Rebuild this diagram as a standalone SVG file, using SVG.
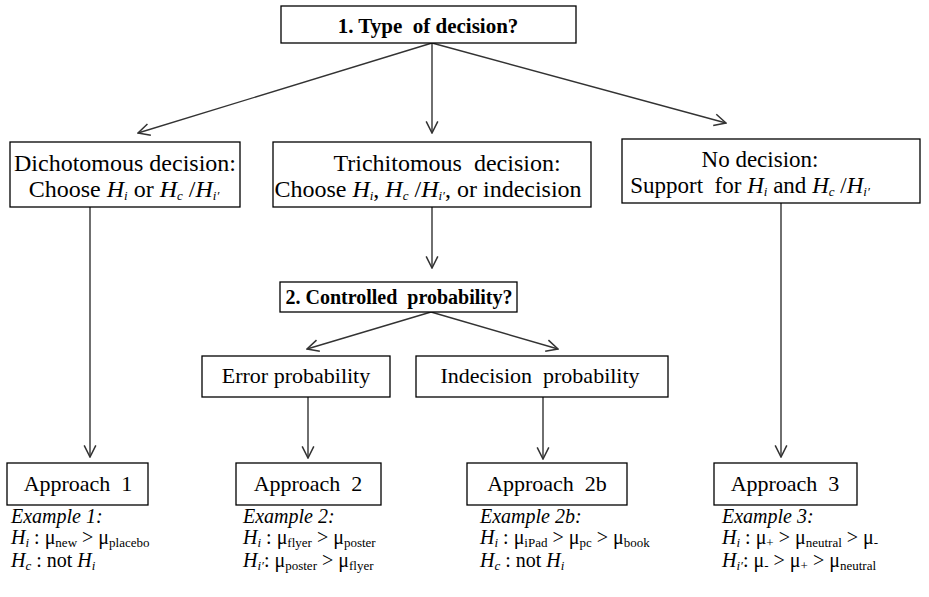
<svg xmlns="http://www.w3.org/2000/svg" width="929" height="597" viewBox="0 0 929 597">
<defs>
<marker id="arr" markerUnits="userSpaceOnUse" markerWidth="14" markerHeight="14" refX="11" refY="6" orient="auto" viewBox="0 0 12 12">
<path d="M1,1 L11,6 L1,11" fill="none" stroke="#333" stroke-width="1.3"/>
</marker>
</defs>
<style>
rect.box{fill:#fff;stroke:#000;stroke-width:1.3}
.c line{stroke:#333;stroke-width:1.4;marker-end:url(#arr)}
text{fill:#000}
.b{font-weight:bold}
.t{font-size:24px}
.ap{font-size:22px}
.ex{font-size:20px}
.it{font-style:italic}
.s{font-size:13px}
</style>
<rect width="929" height="597" fill="#fff"/>
<g class="c" id="connectors">
<line x1="432" y1="43" x2="138" y2="133"/>
<line x1="432" y1="43" x2="432" y2="133"/>
<line x1="432" y1="43" x2="726" y2="123"/>
<line x1="90" y1="207" x2="90" y2="457"/>
<line x1="432" y1="207" x2="432" y2="268"/>
<line x1="431" y1="312" x2="307" y2="349"/>
<line x1="431" y1="312" x2="558" y2="349"/>
<line x1="308" y1="397" x2="308" y2="458"/>
<line x1="543" y1="397" x2="543" y2="459"/>
<line x1="781" y1="203" x2="781" y2="457"/>
</g>
<g font-family="'Liberation Serif', 'Times New Roman', Times, serif">
<g id="n_type">
<rect class="box" x="281" y="6" width="295" height="37"/>
<text class="b" x="428" y="33" font-size="21" text-anchor="middle" xml:space="preserve">1. Type  of decision?</text>
</g>
<g id="n_dich">
<rect class="box" x="10" y="142" width="230" height="65"/>
<text class="t" x="125" y="171" text-anchor="middle">Dichotomous decision:</text>
<text class="t" x="124" y="197" text-anchor="middle">Choose <tspan class="it">H</tspan><tspan class="s it" dy="3">i</tspan><tspan dy="-3"> or </tspan><tspan class="it">H</tspan><tspan class="s it" dy="3">c</tspan><tspan dy="-3"> /</tspan><tspan class="it">H</tspan><tspan class="s it" dy="3">i′</tspan></text>
</g>
<g id="n_trich">
<rect class="box" x="273" y="142" width="318" height="65"/>
<text class="t" x="447" y="171" text-anchor="middle" xml:space="preserve">Trichitomous  decision:</text>
<text class="t" x="428" y="197" text-anchor="middle">Choose <tspan class="it">H</tspan><tspan class="s it" dy="3">i</tspan><tspan dy="-3">, </tspan><tspan class="it">H</tspan><tspan class="s it" dy="3">c</tspan><tspan dy="-3"> /</tspan><tspan class="it">H</tspan><tspan class="s it" dy="3">i′</tspan><tspan dy="-3">, or indecision</tspan></text>
</g>
<g id="n_nodec">
<rect class="box" x="622" y="139" width="298" height="64"/>
<text x="760" y="167" font-size="23" text-anchor="middle">No decision:</text>
<text x="750" y="193" font-size="23" text-anchor="middle" xml:space="preserve">Support  for <tspan class="it">H</tspan><tspan class="s it" dy="3">i</tspan><tspan dy="-3"> and </tspan><tspan class="it">H</tspan><tspan class="s it" dy="3">c</tspan><tspan dy="-3"> /</tspan><tspan class="it">H</tspan><tspan class="s it" dy="3">i′</tspan></text>
</g>
<g id="n_ctrl">
<rect class="box" x="280" y="282" width="237" height="30"/>
<text class="b" x="399" y="304" font-size="20" text-anchor="middle" xml:space="preserve">2. Controlled  probability?</text>
</g>
<g id="n_err">
<rect class="box" x="202" y="356" width="188" height="41"/>
<text x="296" y="383" font-size="22" text-anchor="middle">Error probability</text>
</g>
<g id="n_indec">
<rect class="box" x="416" y="356" width="252" height="41"/>
<text x="540" y="383" font-size="22" text-anchor="middle" xml:space="preserve">Indecision  probability</text>
</g>
<g id="n_ap1">
<rect class="box" x="7" y="463" width="141" height="42"/>
<text class="ap" x="78" y="491" text-anchor="middle" xml:space="preserve">Approach  1</text>
<text class="ex it" x="11" y="523">Example 1:</text>
<text class="ex" x="11" y="544"><tspan class="it">H</tspan><tspan class="s it" dy="3">i</tspan><tspan dy="-3"> : μ</tspan><tspan class="s" dy="3">new</tspan><tspan dy="-3"> &gt; μ</tspan><tspan class="s" dy="3">placebo</tspan></text>
<text class="ex" x="11" y="567"><tspan class="it">H</tspan><tspan class="s it" dy="3">c</tspan><tspan dy="-3"> : not </tspan><tspan class="it">H</tspan><tspan class="s it" dy="3">i</tspan></text>
</g>
<g id="n_ap2">
<rect class="box" x="236" y="463" width="145" height="42"/>
<text class="ap" x="308" y="491" text-anchor="middle" xml:space="preserve">Approach  2</text>
<text class="ex it" x="243" y="523">Example 2:</text>
<text class="ex" x="243" y="544"><tspan class="it">H</tspan><tspan class="s it" dy="3">i</tspan><tspan dy="-3"> : μ</tspan><tspan class="s" dy="3">flyer</tspan><tspan dy="-3"> &gt; μ</tspan><tspan class="s" dy="3">poster</tspan></text>
<text class="ex" x="243" y="567"><tspan class="it">H</tspan><tspan class="s it" dy="3">i′</tspan><tspan dy="-3">: μ</tspan><tspan class="s" dy="3">poster</tspan><tspan dy="-3"> &gt; μ</tspan><tspan class="s" dy="3">flyer</tspan></text>
</g>
<g id="n_ap2b">
<rect class="box" x="467" y="463" width="160" height="42"/>
<text class="ap" x="547" y="491" text-anchor="middle" xml:space="preserve">Approach  2b</text>
<text class="ex it" x="480" y="523">Example 2b:</text>
<text class="ex" x="480" y="544"><tspan class="it">H</tspan><tspan class="s it" dy="3">i</tspan><tspan dy="-3"> : μ</tspan><tspan class="s" dy="3">iPad</tspan><tspan dy="-3"> &gt; μ</tspan><tspan class="s" dy="3">pc</tspan><tspan dy="-3"> &gt; μ</tspan><tspan class="s" dy="3">book</tspan></text>
<text class="ex" x="480" y="567"><tspan class="it">H</tspan><tspan class="s it" dy="3">c</tspan><tspan dy="-3"> : not </tspan><tspan class="it">H</tspan><tspan class="s it" dy="3">i</tspan></text>
</g>
<g id="n_ap3">
<rect class="box" x="714" y="463" width="143" height="42"/>
<text class="ap" x="785" y="491" text-anchor="middle" xml:space="preserve">Approach  3</text>
<text class="ex it" x="722" y="523">Example 3:</text>
<text class="ex" x="722" y="544"><tspan class="it">H</tspan><tspan class="s it" dy="3">i</tspan><tspan dy="-3"> : μ</tspan><tspan class="s" dy="3">+</tspan><tspan dy="-3"> &gt; μ</tspan><tspan class="s" dy="3">neutral</tspan><tspan dy="-3"> &gt; μ</tspan><tspan class="s" dy="3">-</tspan></text>
<text class="ex" x="722" y="567"><tspan class="it">H</tspan><tspan class="s it" dy="3">i′</tspan><tspan dy="-3">: μ</tspan><tspan class="s" dy="3">-</tspan><tspan dy="-3"> &gt; μ</tspan><tspan class="s" dy="3">+</tspan><tspan dy="-3"> &gt; μ</tspan><tspan class="s" dy="3">neutral</tspan></text>
</g>
</g>
</svg>
